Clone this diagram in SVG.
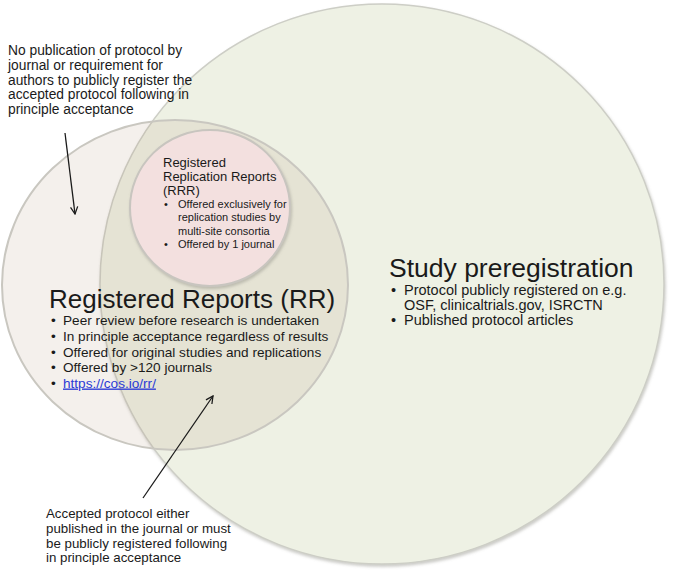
<svg xmlns="http://www.w3.org/2000/svg" width="680" height="573" viewBox="0 0 680 573">
<defs>
<style>
text{font-family:"Liberation Sans",Arial,Helvetica,sans-serif;fill:#1a1a1a}
.note{font-size:13.8px}
.note2{font-size:13.3px}
.rrrt{font-size:13px}
.rrrb{font-size:11px}
.rrb{font-size:13.6px}
.spb{font-size:14.5px}
.big{font-size:26px}
.link{fill:#2b3bd6;text-decoration:underline}
.conn{stroke:#1a1a1a;stroke-width:1.3;fill:none}
</style>
<filter id="sh" x="-10%" y="-10%" width="120%" height="120%">
<feDropShadow dx="1" dy="2" stdDeviation="1.5" flood-color="#8a8a80" flood-opacity="0.45"/>
</filter>
<marker id="ah" viewBox="0 0 10 10" refX="9" refY="5" markerWidth="9" markerHeight="9" markerUnits="userSpaceOnUse" orient="auto">
<path d="M1,1 L9,5 L1,9" fill="none" stroke="#1a1a1a" stroke-width="1.4"/>
</marker>
</defs>
<rect width="680" height="573" fill="#ffffff"/>
<g id="study-preregistration">
<ellipse cx="382" cy="284" rx="282" ry="280" fill="#eef1e4" stroke="#cdcec6" stroke-width="1.5" filter="url(#sh)"/>
</g>
<g id="registered-reports">
<ellipse cx="175" cy="285" rx="173" ry="165" fill="rgb(163,130,97)" fill-opacity="0.12" stroke="#c9c7c0" stroke-width="2"/>
</g>
<g id="rrr">
<ellipse cx="210" cy="208" rx="80" ry="78" fill="#f3e0df" stroke="#c8c5bf" stroke-width="2" filter="url(#sh)"/>
<text class="rrrt" x="163" y="167">Registered</text>
<text class="rrrt" x="163" y="181">Replication Reports</text>
<text class="rrrt" x="163" y="195">(RRR)</text>
<text class="rrrb" x="164" y="208">•</text>
<text class="rrrb" x="178" y="208">Offered exclusively for</text>
<text class="rrrb" x="178" y="221.3">replication studies by</text>
<text class="rrrb" x="178" y="234.6">multi-site consortia</text>
<text class="rrrb" x="164" y="248">•</text>
<text class="rrrb" x="178" y="248">Offered by 1 journal</text>
</g>
<g id="rr-text">
<text class="big" x="49" y="308">Registered Reports (RR)</text>
<text class="rrb" x="51" y="325">•</text>
<text class="rrb" x="63" y="325">Peer review before research is undertaken</text>
<text class="rrb" x="51" y="341">•</text>
<text class="rrb" x="63" y="341">In principle acceptance regardless of results</text>
<text class="rrb" x="51" y="356.5">•</text>
<text class="rrb" x="63" y="356.5">Offered for original studies and replications</text>
<text class="rrb" x="51" y="372">•</text>
<text class="rrb" x="63" y="372">Offered by &gt;120 journals</text>
<text class="rrb" x="51" y="387.5">•</text>
<text class="rrb link" x="63" y="387.5">https://cos.io/rr/</text>
</g>
<g id="sp-text">
<text class="big" x="389" y="277" style="font-size:26.5px">Study preregistration</text>
<text class="spb" x="391" y="294.5">•</text>
<text class="spb" x="404" y="294.5">Protocol publicly registered on e.g.</text>
<text class="spb" x="404" y="309.5">OSF, clinicaltrials.gov, ISRCTN</text>
<text class="spb" x="391" y="325">•</text>
<text class="spb" x="404" y="325">Published protocol articles</text>
</g>
<g id="note-top">
<text class="note" x="8" y="55">No publication of protocol by</text>
<text class="note" x="8" y="69.8">journal or requirement for</text>
<text class="note" x="8" y="84.6">authors to publicly register the</text>
<text class="note" x="8" y="99.4">accepted protocol following in</text>
<text class="note" x="8" y="114.2">principle acceptance</text>
</g>
<g id="note-bottom">
<text class="note2" x="46" y="518">Accepted protocol either</text>
<text class="note2" x="46" y="533">published in the journal or must</text>
<text class="note2" x="46" y="547.5">be publicly registered following</text>
<text class="note2" x="46" y="562">in principle acceptance</text>
</g>
<g id="connectors">
<line class="conn" x1="65" y1="133" x2="75" y2="214" marker-end="url(#ah)"/>
<line class="conn" x1="143" y1="498" x2="213" y2="396" marker-end="url(#ah)"/>
</g>
</svg>
